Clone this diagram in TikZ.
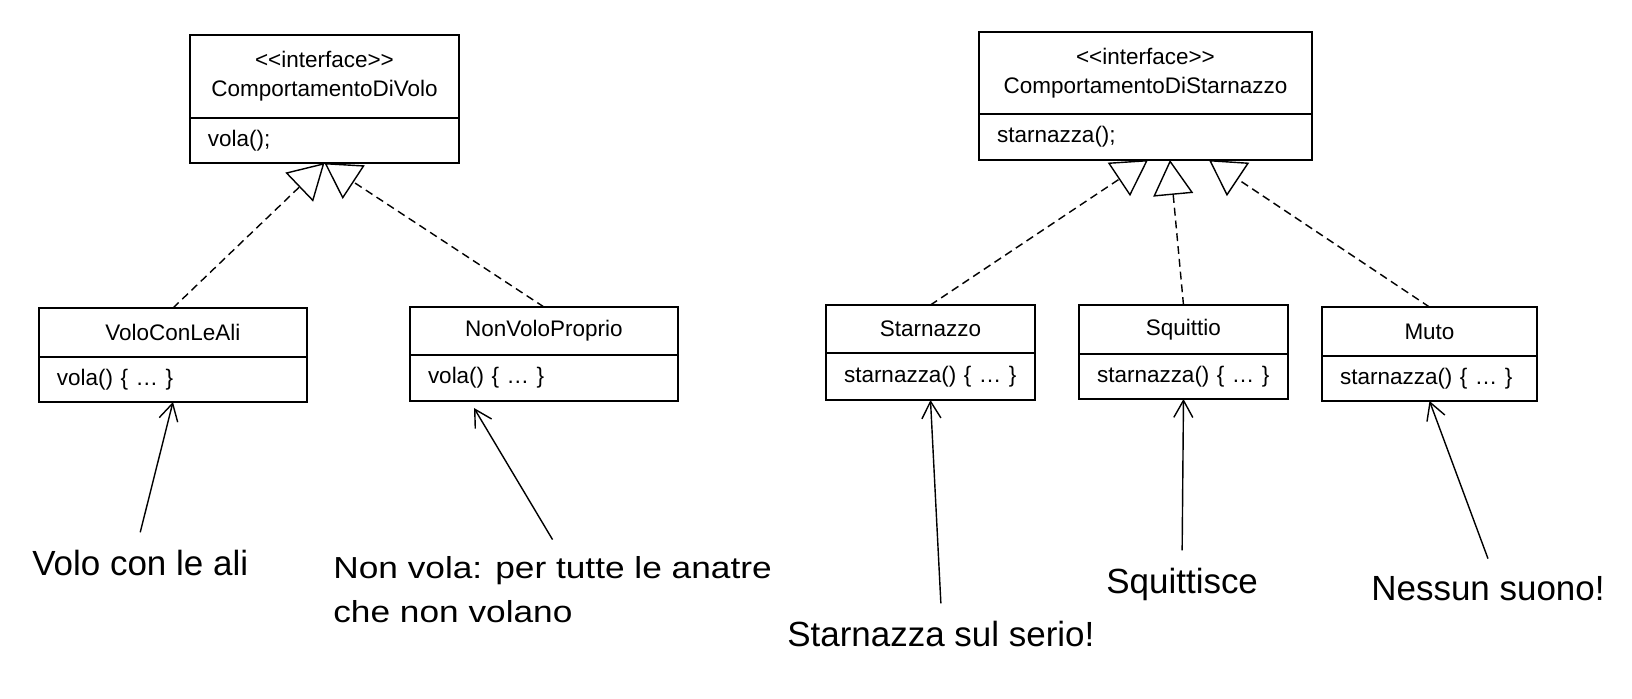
\documentclass[tikz,border=0pt]{standalone}
\usepackage{fontspec}
\setmainfont{Liberation Sans}
\newfontfamily\umlfont{Liberation Sans}
\newfontfamily\widefont{Liberation Sans}[FakeStretch=1.16]
\usetikzlibrary{arrows.meta, positioning}

\tikzset{
  classhead/.style={draw, line width=0.8pt, inner sep=0pt, outer sep=0pt,
    align=center, font=\umlfont\fontsize{12.8}{16.5}\selectfont},
  classbody/.style={draw, line width=0.8pt, inner xsep=0.36cm, inner ysep=0pt,
    outer sep=0pt, align=left, font=\umlfont\fontsize{12.8}{16.5}\selectfont}
}

\begin{document}
\begin{tikzpicture}[x=0.02cm, y=-0.02cm,
  realize/.style={line width=0.8pt, dash pattern=on 4.5pt off 2.8pt,
    -{Triangle[open, length=0.7cm, width=0.8cm]}},
  points/.style={line width=0.8pt, -{Straight Barb[length=0.34cm, width=0.38cm]}},
  remark/.style={anchor=base west, inner xsep=0pt, inner ysep=0.34cm,
    align=left, font=\fontsize{19.9}{24.5}\selectfont}]
  \useasboundingbox (0,0) rectangle (1632,698);

  % Interface: flying behaviour
  \node[classhead, anchor=north west, minimum width=5.38cm, minimum height=1.66cm]
    (ifVolo) at (190,35) {<<interface>>\\ComportamentoDiVolo};
  \node[classbody, below=0pt of ifVolo, text width=4.66cm, minimum height=0.9cm]
    (ifVoloM) {vola();};

  % Interface: quacking behaviour
  \node[classhead, anchor=north west, minimum width=6.66cm, minimum height=1.64cm]
    (ifStarn) at (979,32) {<<interface>>\\ComportamentoDiStarnazzo};
  \node[classbody, below=0pt of ifStarn, text width=5.94cm, minimum height=0.92cm]
    (ifStarnM) {starnazza();};

  % Flying classes
  \node[classhead, anchor=north west, minimum width=5.36cm, minimum height=0.98cm]
    (volo) at (39,308) {VoloConLeAli};
  \node[classbody, below=0pt of volo, text width=4.64cm, minimum height=0.9cm]
    (voloM) {vola() \{ … \}};
  \node[classhead, anchor=north west, minimum width=5.36cm, minimum height=0.96cm]
    (nonVolo) at (410,307) {NonVoloProprio};
  \node[classbody, below=0pt of nonVolo, text width=4.64cm, minimum height=0.92cm]
    (nonVoloM) {vola() \{ … \}};

  % Quacking classes
  \node[classhead, anchor=north west, minimum width=4.18cm, minimum height=0.96cm]
    (starn) at (826,305) {Starnazzo};
  \node[classbody, below=0pt of starn, text width=3.46cm, minimum height=0.94cm]
    (starnM) {starnazza() \{ … \}};
  \node[classhead, anchor=north west, minimum width=4.18cm, minimum height=0.98cm]
    (squit) at (1079,305) {Squittio};
  \node[classbody, below=0pt of squit, text width=3.46cm, minimum height=0.9cm]
    (squitM) {starnazza() \{ … \}};
  \node[classhead, anchor=north west, minimum width=4.3cm, minimum height=0.98cm]
    (muto) at (1322,307) {Muto};
  \node[classbody, below=0pt of muto, text width=3.58cm, minimum height=0.9cm]
    (mutoM) {starnazza() \{ … \}};

  % Realizations
  \draw[realize] (volo.north) -- (ifVoloM.south);
  \draw[realize] (nonVolo.north) -- (ifVoloM.south);
  \draw[realize] (starn.north) -- ([xshift=0.05cm]ifStarnM.south);
  \draw[realize] (squit.north) -- ([xshift=0.49cm]ifStarnM.south);
  \draw[realize] (muto.north) -- ([xshift=1.27cm]ifStarnM.south);

  % Notes (base of a two-line note is its last line)
  \node[remark] (lblVolo) at (32,575) {Volo con le ali};
  \node[remark, font=\widefont\fontsize{17.3}{24.5}\selectfont] (lblNonVola) at (333,622)
    {Non vola: per tutte le anatre\\che non volano};
  \node[remark] (lblStarn) at (787,646) {Starnazza sul serio!};
  \node[remark] (lblSquit) at (1106,593) {Squittisce};
  \node[remark] (lblMuto) at (1371,600) {Nessun suono!};

  \draw[points] (lblVolo.north) -- (voloM.south);
  \draw[points] (lblNonVola.north) -- ([xshift=-1.4cm, yshift=-0.14cm]nonVoloM.south);
  \draw[points] (lblStarn.north) -- (starnM.south);
  \draw[points] (lblSquit.north) -- (squitM.south);
  \draw[points] (lblMuto.north) -- (mutoM.south);
\end{tikzpicture}
\end{document}
